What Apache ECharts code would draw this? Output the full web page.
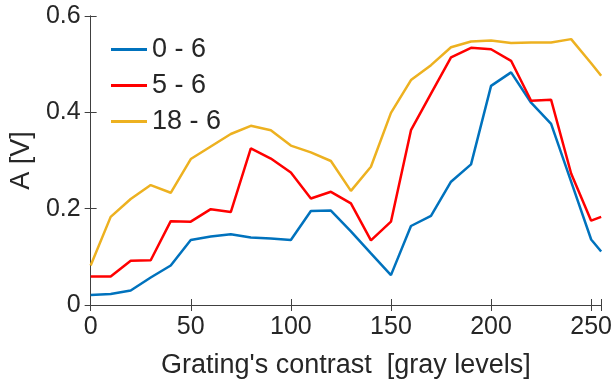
<!DOCTYPE html>
<html>
<head>
<meta charset="utf-8">
<script src="https://cdn.jsdelivr.net/npm/echarts@6/dist/echarts.min.js"></script>
<style>html,body{margin:0;padding:0;background:#fff}#c{width:615px;height:385px}</style>
</head>
<body>
<div id="c"></div>
<script>
const xValues = [0,10,20,30,40,50,60,70,80,90,100,110,120,130,140,150,160,170,180,190,200,210,220,230,240,250,255];
const blue = [0.021,0.023,0.030,0.057,0.082,0.135,0.142,0.147,0.140,0.138,0.135,0.195,0.196,0.153,0.107,0.062,0.164,0.185,0.256,0.292,0.455,0.483,0.420,0.376,0.256,0.136,0.111];
const red = [0.059,0.059,0.092,0.093,0.174,0.173,0.199,0.193,0.325,0.304,0.275,0.221,0.235,0.211,0.134,0.173,0.363,0.439,0.514,0.534,0.531,0.507,0.424,0.426,0.273,0.175,0.183];
const yellow = [0.082,0.183,0.220,0.249,0.233,0.303,0.329,0.355,0.372,0.363,0.331,0.317,0.299,0.237,0.287,0.399,0.467,0.498,0.535,0.547,0.549,0.544,0.545,0.545,0.552,0.502,0.476];
const seriesNames = ['0 - 6','5 - 6','18 - 6'];
const xTitle = "Grating's contrast  [gray levels]";
const yTitle = 'A [V]';

const pairs = arr => xValues.map((x,i)=>[x,arr[i]]);
const colors = ['#0072BD','#FF0000','#EDB120'];
const txt = '#262626';
const axisCol = '#404040';
const font = "'Liberation Sans', Arial, sans-serif";

const chart = echarts.init(document.getElementById('c'), null, {renderer:'canvas'});
chart.setOption({
  animation:false,
  backgroundColor:'#fff',
  grid:{left:90,right:10,top:16,bottom:80,containLabel:false},
  legend:{
    orient:'vertical', left:106, top:31, itemWidth:36, itemHeight:3, itemGap:9,
    icon:'rect',
    textStyle:{fontSize:27, color:txt, fontFamily:font, lineHeight:27},
    data:seriesNames
  },
  xAxis:[{
    type:'value', min:0, max:255, interval:50,
    name:xTitle, nameLocation:'middle', nameGap:47,
    nameTextStyle:{fontSize:27,color:txt,fontFamily:font},
    axisLine:{show:true,lineStyle:{color:axisCol,width:1}},
    axisTick:{show:true,inside:true,length:6,lineStyle:{color:axisCol}},
    axisLabel:{fontSize:25,color:txt,fontFamily:font,margin:10,
      formatter:v=> (v%50===0? String(v):'')},
    splitLine:{show:false}
  },{
    type:'value', min:0, max:255, interval:50, position:'top',
    axisLine:{show:true,lineStyle:{color:axisCol,width:1}},
    axisTick:{show:true,inside:true,length:6,lineStyle:{color:axisCol}},
    axisLabel:{show:false}, splitLine:{show:false}
  }],
  yAxis:[{
    type:'value', min:0, max:0.6, interval:0.2,
    name:yTitle, nameLocation:'middle', nameGap:52,
    nameTextStyle:{fontSize:27,color:txt,fontFamily:font},
    axisLine:{show:true,lineStyle:{color:axisCol,width:1}},
    axisTick:{show:true,inside:true,length:6,lineStyle:{color:axisCol}},
    axisLabel:{fontSize:25,color:txt,fontFamily:font,margin:10},
    splitLine:{show:false}
  },{
    type:'value', min:0, max:0.6, interval:0.2, position:'right',
    axisLine:{show:true,lineStyle:{color:axisCol,width:1}},
    axisTick:{show:true,inside:true,length:6,lineStyle:{color:axisCol}},
    axisLabel:{show:false}, splitLine:{show:false}
  }],
  series:[blue,red,yellow].map((d,i)=>({
    name:seriesNames[i], type:'line', data:pairs(d), symbol:'none',
    xAxisIndex:0, yAxisIndex:0,
    lineStyle:{color:colors[i],width:2.5}, itemStyle:{color:colors[i]}
  }))
});
</script>
</body>
</html>
